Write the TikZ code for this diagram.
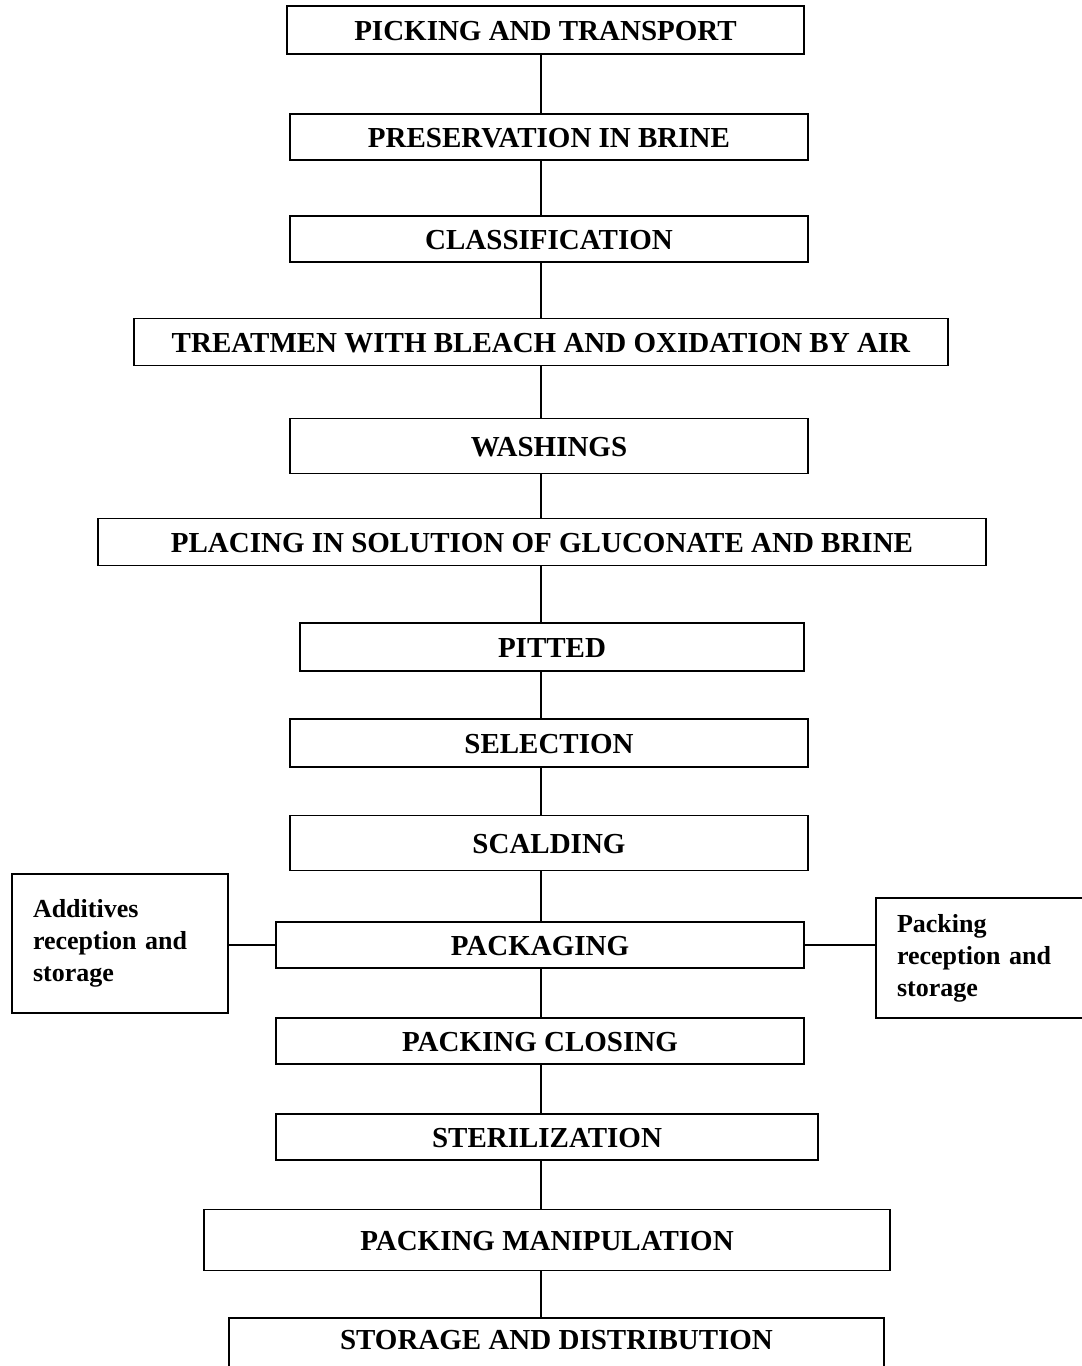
\documentclass[tikz,border=0pt]{standalone}
\usepackage{fontspec}
\setmainfont{Liberation Serif}
\usepackage{tikz}

\tikzset{
	stepbox/.style={draw, line width=1.8pt, inner sep=0pt,
		font=\bfseries\fontsize{29}{34}\selectfont, text height=20pt, text depth=0pt},
	sidebox/.style={draw, line width=1.8pt, inner sep=0pt, align=left,
		font=\bfseries\fontsize{26}{32}\selectfont, text width=174pt, minimum width=216pt},
	link/.style={line width=1.4pt}
}

\begin{document}
\begin{tikzpicture}[x=1pt,y=-1pt]
	\useasboundingbox (0,0) rectangle (1082,1366);
	\coordinate (axis) at (541,0);
	% main line
	\node[stepbox, minimum width=517pt, minimum height=48pt] (pick) at (545.5,30) {PICKING AND TRANSPORT};
	\node[stepbox, minimum width=518pt, minimum height=46pt] (pres) at (549,137) {PRESERVATION IN BRINE};
	\node[stepbox, minimum width=518pt, minimum height=46pt] (class) at (549,239) {CLASSIFICATION};
	\node[stepbox, minimum width=814pt, minimum height=47pt] (treat) at (541,342) {TREATMEN WITH BLEACH AND OXIDATION BY AIR};
	\node[stepbox, minimum width=518pt, minimum height=55pt] (wash) at (549,446) {WASHINGS};
	\node[stepbox, minimum width=888pt, minimum height=47pt] (place) at (542,542) {PLACING IN SOLUTION OF GLUCONATE AND BRINE};
	\node[stepbox, minimum width=504pt, minimum height=48pt] (pit) at (552,647) {PITTED};
	\node[stepbox, minimum width=518pt, minimum height=48pt] (sel) at (549,743) {SELECTION};
	\node[stepbox, minimum width=518pt, minimum height=55pt] (scald) at (549,843) {SCALDING};
	\node[stepbox, minimum width=528pt, minimum height=46pt] (pack) at (540,945) {PACKAGING};
	\node[stepbox, minimum width=528pt, minimum height=46pt] (close) at (540,1041) {PACKING CLOSING};
	\node[stepbox, minimum width=542pt, minimum height=46pt] (steril) at (547,1137) {STERILIZATION};
	\node[stepbox, minimum width=686pt, minimum height=61pt] (manip) at (547,1240) {PACKING MANIPULATION};
	\node[stepbox, minimum width=655pt, minimum height=60pt, text depth=18pt] (store) at (556.5,1348) {STORAGE AND DISTRIBUTION};
	% side boxes
	\node[sidebox, minimum height=139pt] (add) at (120,943.5) {Additives\\reception and\\storage};
	\node[sidebox, minimum height=120pt] (pkr) at (984,958) {Packing\\reception and\\storage};

	\foreach \a/\b in {pick/pres, pres/class, class/treat, treat/wash, wash/place, place/pit, pit/sel, sel/scald, scald/pack, pack/close, close/steril, steril/manip, manip/store}
	{
		\draw[link] (\a.south -| axis) -- (\b.north -| axis);
	}
	\draw[link] (add.east |- pack.west) -- (pack.west);
	\draw[link] (pack.east) -- (pkr.west |- pack.east);
\end{tikzpicture}
\end{document}
